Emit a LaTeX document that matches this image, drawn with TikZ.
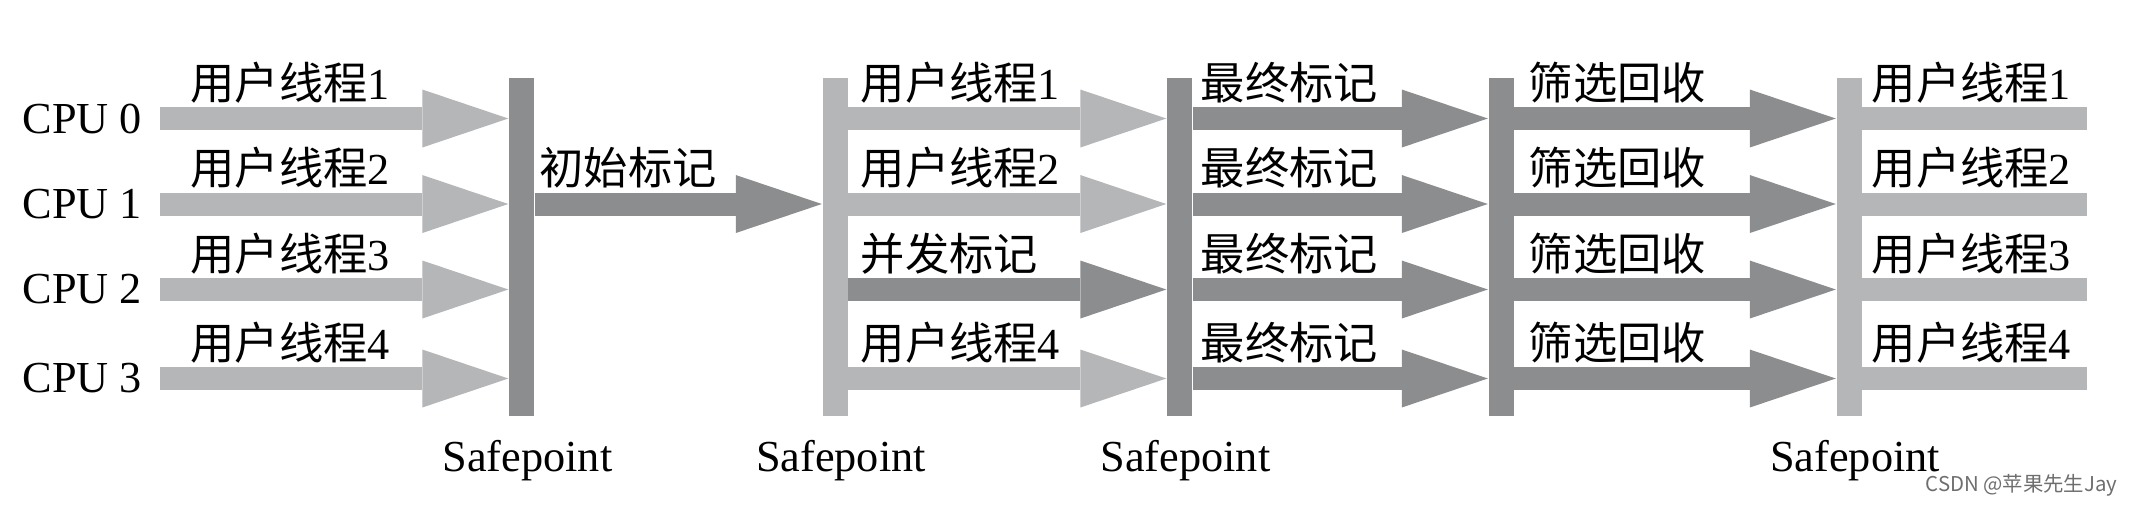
\documentclass[tikz,border=0pt]{standalone}
\usepackage{fontspec}
\setmainfont{Liberation Serif}
\newfontfamily\cjk{Noto Sans CJK SC}
\usetikzlibrary{arrows.meta}
\usetikzlibrary{positioning}
\definecolor{lightbar}{HTML}{B5B6B8}
\definecolor{darkbar}{HTML}{8C8D8F}
\definecolor{markgray}{HTML}{6E6E6E}
\tikzset{
  sbar/.style={fill=#1, inner sep=0pt, minimum width=0.25cm, minimum height=3.38cm},
  fat/.style={draw=#1, line width=0.23cm, -{Triangle[length=0.86cm, width=0.58cm, line width=0pt, fill=#1]}},
  flat/.style={draw=#1, line width=0.23cm},
  lbl/.style={inner sep=0pt, anchor=west, font=\fontsize{12.6}{14}\selectfont},
}

\begin{document}
\begin{tikzpicture}
				\useasboundingbox (0,0) rectangle (21.34,-5.04);
				
				% Draw the safepoint bars
				\node[sbar=darkbar] (sp1) at (5.215,-2.47) {};
				\node[sbar=lightbar] (sp2) at (8.35,-2.47) {};
				\node[sbar=darkbar] (sp3) at (11.795,-2.47) {};
				\node[sbar=darkbar] (sp4) at (15.01,-2.47) {};
				\node[sbar=lightbar] (sp5) at (18.49,-2.47) {};
				
				% Safepoint labels
				\foreach \s in {1,2,3,5}
					\node[lbl, anchor=north, below=0.23cm of sp\s, xshift=0.06cm] (spl\s) {Safepoint};
				
				% Rows, CPUs and user threads up to the first safepoint
				\foreach \i/\y/\n in {0/1.185/1, 1/2.04/2, 2/2.895/3, 3/3.785/4} {
					\coordinate (r\i) at (0,-\y);
					\node[lbl] (cpu\i) at (0.22,-\y) {CPU \i};
					\draw[fat=lightbar] ([xshift=0.17cm]cpu\i.east) -- (sp1.west |- r\i);
					\node[lbl] (ut\i) at (1.90,{0.36-\y}) {{\cjk 用户线程}\n};
				}
				
				% Initial mark
				\draw[fat=darkbar] (sp1.east |- r1) -- (sp2.west |- r1);
				\node[lbl] (init) at (5.39,-1.68) {\cjk 初始标记};
				
				% Concurrent mark with user threads
				\foreach \i/\y/\n in {0/1.185/1, 1/2.04/2, 3/3.785/4} {
					\draw[fat=lightbar] (sp2.east |- r\i) -- (sp3.west |- r\i);
					\node[lbl] (uc\i) at (8.60,{0.36-\y}) {{\cjk 用户线程}\n};
				}
				\draw[fat=darkbar] (sp2.east |- r2) -- (sp3.west |- r2);
				\node[lbl] (conc) at (8.60,-2.535) {\cjk 并发标记};
				
				% Final mark, then cleanup
				\foreach \i/\y in {0/1.185, 1/2.04, 2/2.895, 3/3.785} {
					\draw[fat=darkbar] (sp3.east |- r\i) -- (sp4.west |- r\i);
					\node[lbl] (fm\i) at (12.00,{0.36-\y}) {\cjk 最终标记};
					\draw[fat=darkbar] (sp4.east |- r\i) -- (sp5.west |- r\i);
					\node[lbl] (cl\i) at (15.28,{0.36-\y}) {\cjk 筛选回收};
				}
				
				% User threads go on
				\foreach \i/\y/\n in {0/1.185/1, 1/2.04/2, 2/2.895/3, 3/3.785/4} {
					\coordinate (end\i) at (20.87,-\y);
					\draw[flat=lightbar] (sp5.east |- r\i) -- (end\i);
					\node[lbl] (ue\i) at (18.71,{0.36-\y}) {{\cjk 用户线程}\n};
				}
				
				% Watermark
				\node[inner sep=0pt, anchor=east, text=markgray, font=\cjk\fontsize{5.8}{7}\selectfont] (wm) at (21.18,-4.85) {CSDN @苹果先生Jay};
			\end{tikzpicture}
\end{document}
